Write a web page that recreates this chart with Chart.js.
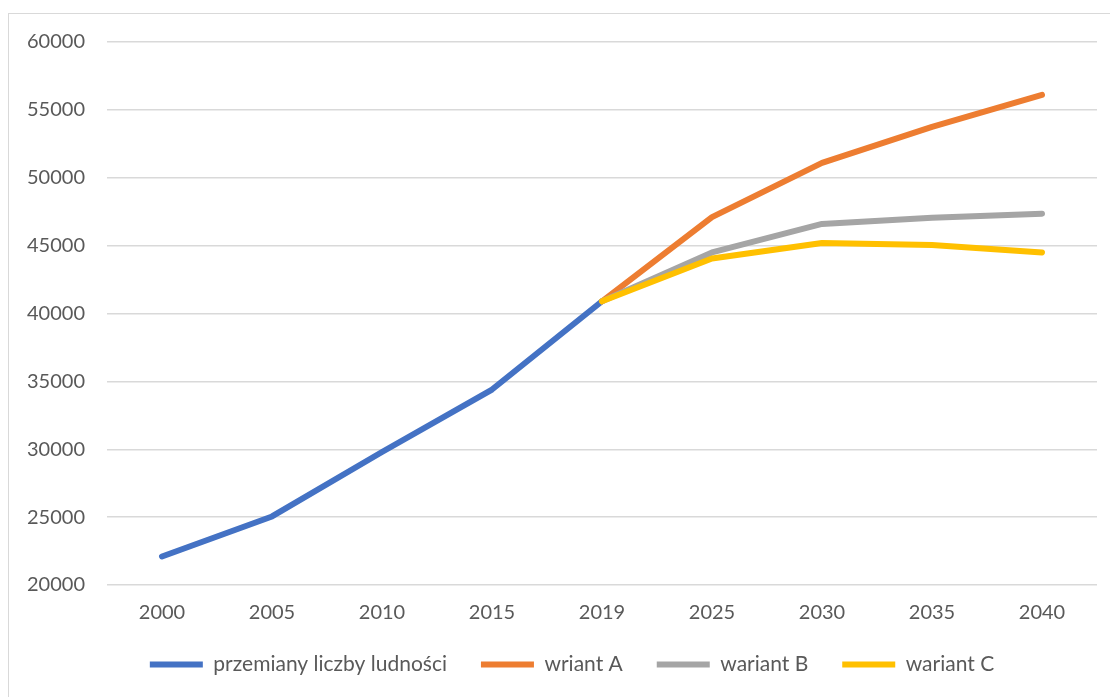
<!DOCTYPE html>
<html>
<head>
<meta charset="utf-8">
<script src="https://cdn.jsdelivr.net/npm/chart.js@4"></script>
<style>
  html, body { margin: 0; padding: 0; background: #fff; overflow: hidden; width: 1110px; height: 697px; }
  #frame { position: absolute; left: 8px; top: 13px; width: 1200px; height: 800px; border-left: 1px solid #d9d9d9; border-top: 1px solid #d9d9d9; }
  #wrap { position: absolute; left: 9px; top: 14px; width: 1126px; height: 671px; }
</style>
</head>
<body>
<div id="frame"></div>
<div id="wrap"><canvas id="c" width="1126" height="671"></canvas></div>
<script>
const categories = ['2000', '2005', '2010', '2015', '2019', '2025', '2030', '2035', '2040'];
const seriesNames = ['przemiany liczby ludności', 'wriant A', 'wariant B', 'wariant C'];
const history = [22100, 25050, 29800, 34400, 40900, null, null, null, null];
const variantA = [null, null, null, null, 40900, 47100, 51100, 53750, 56100];
const variantB = [null, null, null, null, 40900, 44500, 46600, 47050, 47350];
const variantC = [null, null, null, null, 40900, 44050, 45200, 45050, 44500];
const yTicks = { min: 20000, max: 60000, step: 5000 };
const colors = ['#4472C4', '#ED7D31', '#A5A5A5', '#FFC000'];

const FONT = 'Lato';
function ds(label, data, color, order) {
  return {
    label, data, borderColor: color, backgroundColor: color,
    borderWidth: 6, borderCapStyle: 'round', borderJoinStyle: 'round',
    pointRadius: 0, pointHoverRadius: 0, tension: 0, fill: false, order, spanGaps: false
  };
}

const shiftLegend = {
  id: 'shiftLegend',
  afterLayout(chart) {
    const lg = chart.legend;
    if (lg) { lg.left += 19; lg.right += 19; }
  }
};

new Chart(document.getElementById('c'), {
  type: 'line',
  data: {
    labels: categories,
    datasets: [
      ds(seriesNames[0], history, colors[0], 4),
      ds(seriesNames[1], variantA, colors[1], 3),
      ds(seriesNames[2], variantB, colors[2], 2),
      ds(seriesNames[3], variantC, colors[3], 1)
    ]
  },
  plugins: [shiftLegend],
  options: {
    responsive: false,
    animation: false,
    layout: { padding: { top: 28, left: 0, right: 38, bottom: 0 } },
    plugins: {
      tooltip: { enabled: false },
      legend: {
        position: 'bottom',
        labels: {
          usePointStyle: true,
          pointStyle: 'line',
          pointStyleWidth: 53,
          padding: 34,
          color: '#595959',
          font: { family: FONT, size: 21 },
          sort: (a, b) => a.datasetIndex - b.datasetIndex
        }
      }
    },
    scales: {
      x: {
        offset: true,
        grid: { display: false, drawTicks: false },
        border: { display: false },
        ticks: { color: '#595959', padding: 16, font: { family: FONT, size: 20 }, maxRotation: 0 },
        afterFit: (s) => { s.height = 35; }
      },
      y: {
        min: yTicks.min, max: yTicks.max,
        grid: { color: '#d9d9d9', lineWidth: 1.5, drawTicks: false },
        border: { display: false },
        ticks: {
          stepSize: yTicks.step, color: '#595959', padding: 22,
          font: { family: FONT, size: 20 },
          callback: (v) => String(v)
        },
        afterFit: (s) => { s.width = 98; s.paddingTop = 0; s.paddingBottom = 0; }
      }
    }
  }
});
</script>
</body>
</html>
